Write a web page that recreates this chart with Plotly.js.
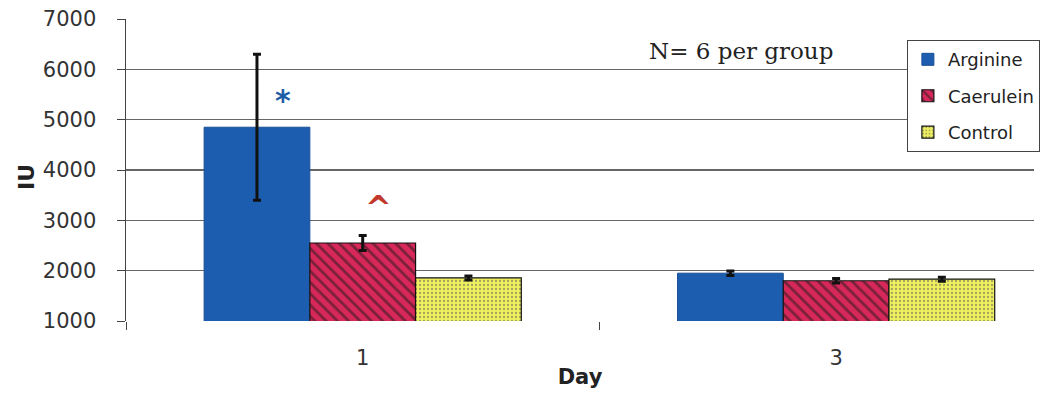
<!DOCTYPE html>
<html>
<head>
<meta charset="utf-8">
<script src="https://cdn.plot.ly/plotly-3.0.1.min.js"></script>
<style>html,body{margin:0;padding:0;background:#fff;}</style>
</head>
<body>
<div id="chart" style="width:1043px;height:393px;"></div>
<script>
const days = ['1', '3'];
const arginine = [4850, 1950];
const arginineErr = [1450, 45];
const caerulein = [2550, 1800];
const caeruleinErr = [150, 45];
const control = [1855, 1830];
const controlErr = [40, 40];

const SANS = 'DejaVu Sans, Liberation Sans, Arial, sans-serif';
const errStyle = {type: 'data', visible: true, color: '#111', thickness: 3, width: 4};

const traces = [
  {
    type: 'bar', name: 'Arginine', x: days, y: arginine, legendgroup: 'a',
    error_y: Object.assign({array: arginineErr}, errStyle),
    marker: {color: '#1c5db0', line: {color: '#1a4f95', width: 1}}
  },
  {
    type: 'bar', name: 'Caerulein', x: days, y: caerulein, legendgroup: 'b',
    error_y: Object.assign({array: caeruleinErr}, errStyle),
    marker: {color: '#d8285a', line: {color: '#111', width: 1.2},
      pattern: {shape: '\\', fillmode: 'overlay', fgcolor: '#1a1a1a', size: 8, solidity: 0.35}}
  },
  {
    type: 'bar', name: 'Control', x: days, y: control, legendgroup: 'c',
    error_y: Object.assign({array: controlErr}, errStyle),
    marker: {color: '#eef060', line: {color: '#111', width: 1.2},
      pattern: {shape: '.', fillmode: 'overlay', fgcolor: '#555', size: 4, solidity: 0.25}}
  }
];

const layout = {
  width: 1043, height: 393,
  margin: {l: 126, r: 3, t: 19, b: 72},
  paper_bgcolor: '#fff', plot_bgcolor: '#fff',
  barmode: 'group', bargap: 0.33, bargroupgap: 0,
  font: {family: SANS, color: '#222'},
  xaxis: {
    type: 'category', range: [-0.5, 1.418],
    tickson: 'boundaries', ticks: 'outside', ticklen: 8, tickcolor: '#444',
    ticklabelstandoff: 22,
    tickfont: {size: 21, color: '#333', family: SANS},
    showline: false, showgrid: false, zeroline: false,
    title: {text: '<b>Day</b>', font: {size: 21, color: '#222', family: SANS}, standoff: 0}
  },
  yaxis: {
    range: [1000, 7000], tickvals: [1000, 2000, 3000, 4000, 5000, 6000, 7000],
    ticks: 'outside', ticklen: 8, tickcolor: '#444', ticklabelstandoff: 16,
    tickfont: {size: 21, color: '#333', family: SANS},
    showline: true, linecolor: '#444', linewidth: 1.5,
    showgrid: true, gridcolor: '#666', gridwidth: 1.2, zeroline: false
  },
  legend: {
    x: 0.86, y: 0.93, xanchor: 'left', yanchor: 'top',
    bgcolor: '#fff', bordercolor: '#444', borderwidth: 1,
    font: {size: 18, color: '#222', family: SANS}, tracegroupgap: 10
  },
  annotations: [
    {xref: 'paper', yref: 'paper', x: -0.125, y: 0.477, textangle: -90,
     text: '<b>IU</b>', showarrow: false,
     font: {size: 22, color: '#222', family: SANS}},
    {x: days.indexOf('1'), y: 5380, xshift: -80, text: '<b>*</b>', showarrow: false,
     font: {size: 30, color: '#1d5da8', family: SANS}},
    {x: days.indexOf('1'), y: 3250, xshift: 16, text: '<b>^</b>', showarrow: false,
     font: {size: 32, color: '#c0392b', family: SANS}},
    {xref: 'paper', yref: 'paper', x: 0.574, y: 0.895, xanchor: 'left', yanchor: 'middle',
     text: 'N= 6 per group', showarrow: false,
     font: {size: 23, color: '#222', family: 'DejaVu Serif, Liberation Serif, serif'}}
  ]
};

Plotly.newPlot('chart', traces, layout, {displayModeBar: false, staticPlot: true});
</script>
</body>
</html>
